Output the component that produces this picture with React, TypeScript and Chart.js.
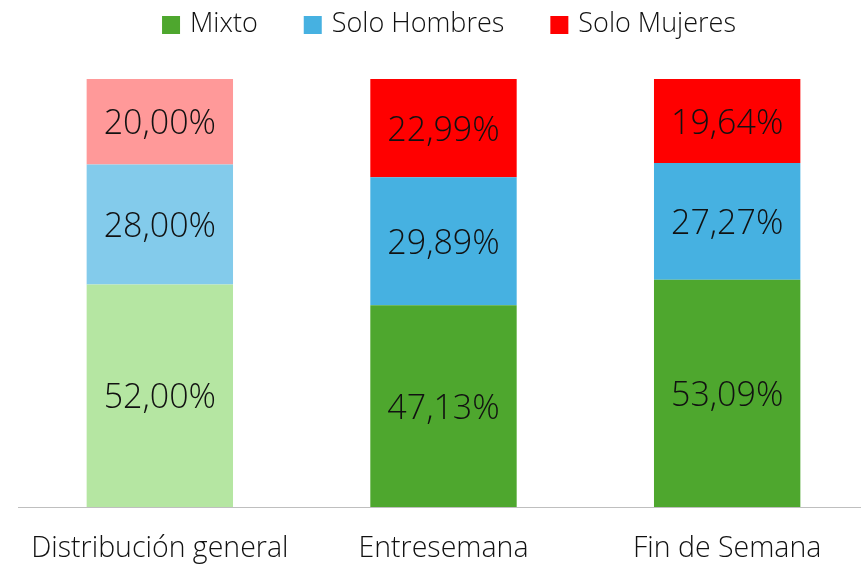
import React, { useEffect, useRef } from "react";
import { Chart, registerables } from "chart.js";

Chart.register(...registerables);

const categories = ["Distribución general", "Entresemana", "Fin de Semana"];
const seriesNames = ["Mixto", "Solo Hombres", "Solo Mujeres"];
const mixto = [52.0, 47.13, 53.09];
const soloHombres = [28.0, 29.89, 27.27];
const soloMujeres = [20.0, 22.99, 19.64];

const FONT = "'Open Sans', 'DejaVu Sans', sans-serif";

const mainColors = ["#4ea72e", "#46b1e1", "#ff0000"];
const lightColors = ["#b5e6a2", "#83cbeb", "#ff9999"];

const fmt = (v: number) => v.toFixed(2).replace(".", ",") + "%";

const dataLabelPlugin = {
  id: "dataLabels",
  afterDatasetsDraw(chart: any) {
    const ctx = chart.ctx;
    ctx.save();
    ctx.font = `300 34px ${FONT}`;
    ctx.fillStyle = "#111111";
    ctx.textAlign = "center";
    ctx.textBaseline = "middle";
    chart.data.datasets.forEach((ds: any, di: number) => {
      const meta = chart.getDatasetMeta(di);
      meta.data.forEach((el: any, i: number) => {
        const v = ds.data[i];
        const y = (el.y + el.base) / 2;
        ctx.fillText(fmt(v), el.x, y + 3);
      });
    });
    ctx.restore();
  },
};

const legendPlugin = {
  id: "customLegend",
  afterDraw(chart: any) {
    const ctx = chart.ctx;
    ctx.save();
    ctx.font = `300 27px ${FONT}`;
    ctx.textBaseline = "middle";
    ctx.textAlign = "left";
    const box = 18;
    const gap = 10;
    const itemGap = 46;
    const cy = 25;
    const widths = chart.data.datasets.map(
      (ds: any) => box + gap + ctx.measureText(ds.label).width
    );
    const total =
      widths.reduce((a: number, b: number) => a + b, 0) +
      itemGap * (widths.length - 1);
    let x = 449 - total / 2;
    chart.data.datasets.forEach((ds: any, i: number) => {
      ctx.fillStyle = mainColors[i];
      ctx.fillRect(x, cy - box / 2, box, box);
      ctx.fillStyle = "#111111";
      ctx.fillText(ds.label, x + box + gap, cy - 1);
      x += widths[i] + itemGap;
    });
    ctx.restore();
  },
};

export default function App() {
  const ref = useRef<HTMLCanvasElement>(null);
  useEffect(() => {
    document.body.style.margin = "0";
    document.documentElement.style.overflow = "hidden";
    document.body.style.overflow = "hidden";
    const series = [mixto, soloHombres, soloMujeres];
    const chart = new Chart(ref.current as HTMLCanvasElement, {
      type: "bar",
      data: {
        labels: categories,
        datasets: series.map((d, i) => ({
          label: seriesNames[i],
          data: d,
          backgroundColor: categories.map((_, ci) =>
            ci === 0 ? lightColors[i] : mainColors[i]
          ),
          borderWidth: 0,
          categoryPercentage: 1,
          barPercentage: 0.516,
        })),
      },
      options: {
        responsive: false,
        animation: false,
        layout: { padding: { top: 79, left: 18, right: 0, bottom: 0 } },
        plugins: {
          legend: { display: false },
          tooltip: { enabled: false },
        },
        scales: {
          x: {
            stacked: true,
            grid: { display: false, drawTicks: false },
            border: { display: true, color: "#bfbfbf", width: 1 },
            ticks: {
              padding: 25,
              color: "#111111",
              font: { family: FONT, size: 28.5, weight: "300" as any },
            },
            afterFit(scale: any) {
              scale.height = 58;
            },
          },
          y: {
            stacked: true,
            display: false,
            min: 0,
            max: 100,
          },
        },
      },
      plugins: [dataLabelPlugin, legendPlugin],
    });
    return () => chart.destroy();
  }, []);
  return (
    <div style={{ width: 861, height: 565, overflow: "hidden" }}>
      <canvas ref={ref} width={869} height={565} style={{ display: "block" }} />
    </div>
  );
}
